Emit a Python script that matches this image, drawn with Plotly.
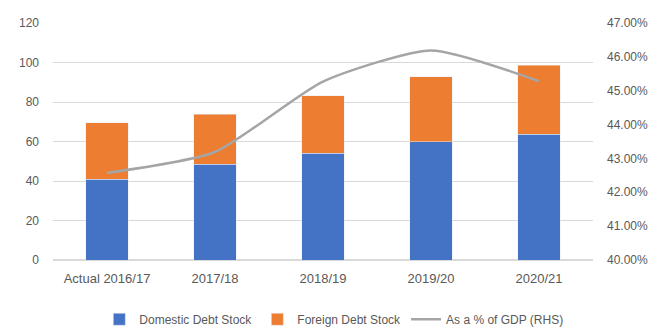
import plotly.graph_objects as go

# Public debt stock (bars, left axis) and debt-to-GDP ratio (line, right axis)
years = ["Actual 2016/17", "2017/18", "2018/19", "2019/20", "2020/21"]
domestic_debt = [41.0, 48.6, 54.0, 60.0, 63.6]
foreign_debt = [28.4, 25.2, 29.2, 32.8, 35.1]
debt_pct_gdp = [42.57, 43.19, 45.27, 46.19, 45.28]

left_ticks = [0, 20, 40, 60, 80, 100, 120]
right_ticks = [40, 41, 42, 43, 44, 45, 46, 47]

BLUE = "#4472C4"
ORANGE = "#ED7D31"
GREY = "#A5A5A5"
TEXT = "#595959"

fig = go.Figure()
fig.add_trace(go.Bar(x=years, y=domestic_debt, name="Domestic Debt Stock",
                     marker_color=BLUE))
fig.add_trace(go.Bar(x=years, y=foreign_debt, name="Foreign Debt Stock",
                     marker_color=ORANGE))
fig.add_trace(go.Scatter(x=years, y=debt_pct_gdp, name="As a % of GDP (RHS)",
                         mode="lines", yaxis="y2",
                         line=dict(color=GREY, width=2.5, shape="spline", smoothing=0.6)))

fig.update_layout(
    width=659, height=327,
    margin=dict(l=53, r=66, t=23, b=67, autoexpand=False),
    barmode="stack",
    bargap=0.61,
    plot_bgcolor="white",
    paper_bgcolor="white",
    font=dict(family="Liberation Sans, Arial, sans-serif", size=12, color=TEXT),
    xaxis=dict(showgrid=False, showline=False, ticks="", tickfont=dict(size=13),
               ticklabelstandoff=9),
    yaxis=dict(range=[0, 120], tickvals=left_ticks, showgrid=True,
               gridcolor="#D9D9D9", gridwidth=1, zeroline=True,
               zerolinecolor="#D9D9D9", ticks="", ticklen=0,
               ticklabelstandoff=13),
    yaxis2=dict(range=[40, 47], tickvals=right_ticks,
                ticktext=[f"{v:.2f}%" for v in right_ticks],
                overlaying="y", side="right", showgrid=False,
                zeroline=False, ticks="", ticklabelstandoff=13),
    legend=dict(orientation="h", x=0.52, xanchor="center", y=-0.25,
                yanchor="middle", font=dict(size=12, color=TEXT),
                itemwidth=30, traceorder="normal"),
    showlegend=True,
)

fig.write_html("out.html")
